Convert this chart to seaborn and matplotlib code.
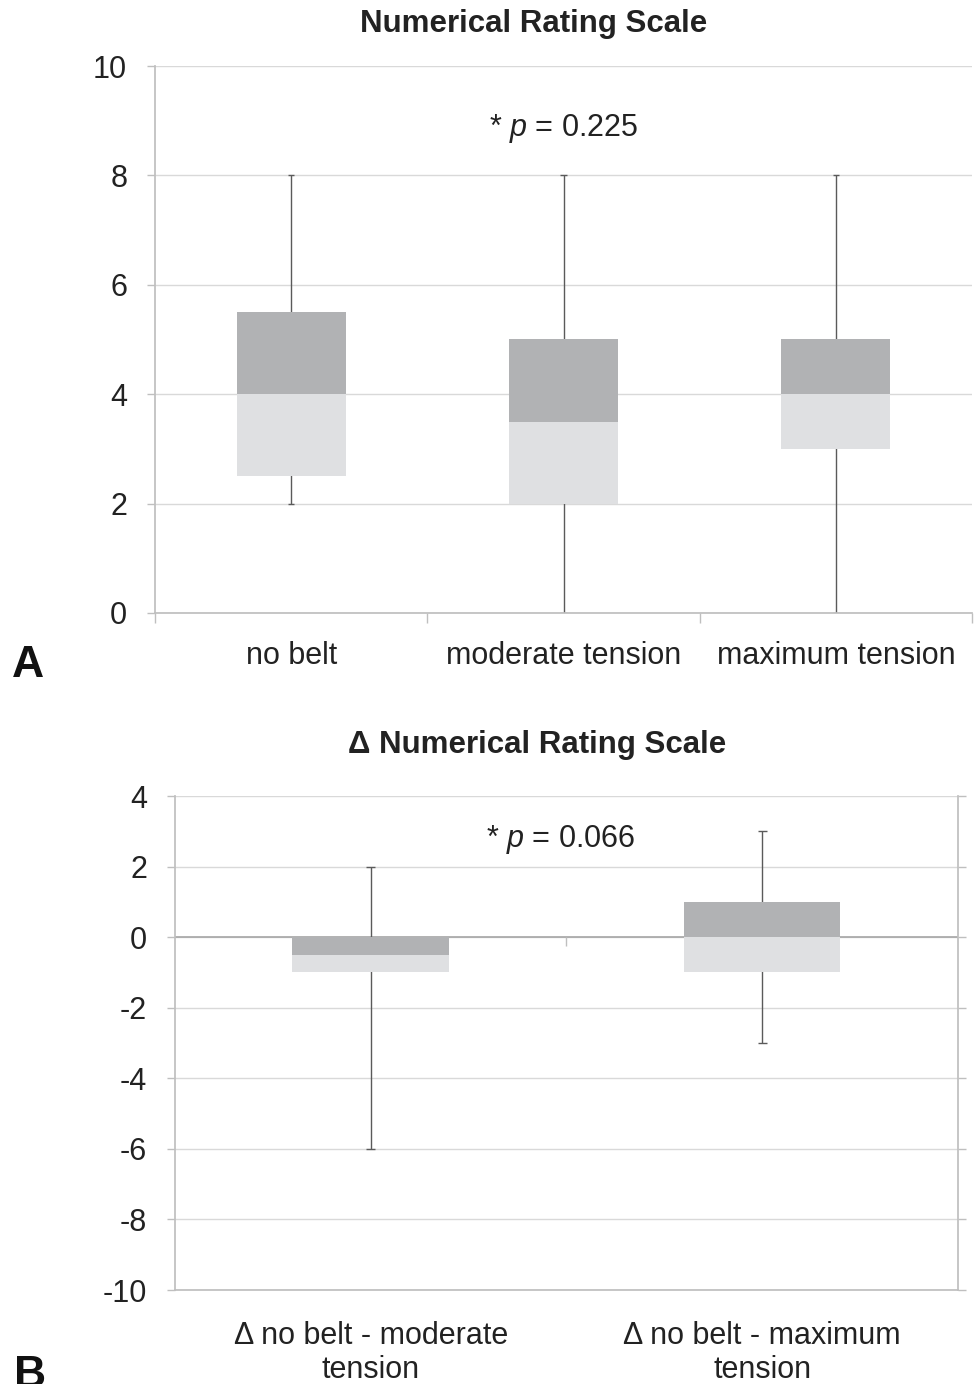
import matplotlib
matplotlib.use("Agg")
import matplotlib.pyplot as plt
import seaborn as sns
import pandas as pd
import numpy as np

# Panel A - Numerical Rating Scale
groups_a = ["no belt", "moderate tension", "maximum tension"]
min_a = [2, 0, 0]
q1_a = [2.5, 2, 3]
med_a = [4, 3.5, 4]
q3_a = [5.5, 5, 5]
max_a = [8, 8, 8]
yticks_a = [0, 2, 4, 6, 8, 10]

# Panel B - Delta Numerical Rating Scale
groups_b = ["Δ no belt - moderate\ntension", "Δ no belt - maximum\ntension"]
min_b = [-6, -3]
q1_b = [-1, -1]
med_b = [-0.5, 0]
q3_b = [0, 1]
max_b = [2, 3]
yticks_b = [-10, -8, -6, -4, -2, 0, 2, 4]

sns.set_theme(style="white")
plt.rcParams['font.family'] = ['Liberation Sans', 'DejaVu Sans']
plt.rcParams['mathtext.fontset'] = 'custom'
plt.rcParams['mathtext.it'] = 'Liberation Sans:italic'
plt.rcParams['mathtext.rm'] = 'Liberation Sans'

DARK = "#b1b2b4"
LIGHT = "#dfe0e2"
WHISK = "#5a5a5a"
GRID = "#d9d9d9"
AXIS = "#bfbfbf"


def box_panel(ax, groups, lo, q1, med, q3, hi, yticks):
    df = pd.DataFrame({"group": groups,
                       "lower": np.array(med) - np.array(q1),
                       "upper": np.array(q3) - np.array(med)})
    x = np.arange(len(groups))
    # whiskers and caps behind the boxes
    ax.vlines(x, lo, hi, color=WHISK, lw=1, zorder=2)
    ax.hlines(lo, x - 0.012, x + 0.012, color=WHISK, lw=1, zorder=2)
    ax.hlines(hi, x - 0.012, x + 0.012, color=WHISK, lw=1, zorder=2)
    sns.barplot(data=df, x="group", y="lower", bottom=q1, color=LIGHT, linewidth=0,
                width=0.4, errorbar=None, saturation=1, ax=ax, zorder=3)
    sns.barplot(data=df, x="group", y="upper", bottom=med, color=DARK, linewidth=0,
                width=0.4, errorbar=None, saturation=1, ax=ax, zorder=3)
    ax.set_xlim(-0.5, len(groups) - 0.5)
    ax.set_ylim(yticks[0], yticks[-1])
    ax.set_yticks(yticks)
    ax.set_yticklabels([str(t) for t in yticks], fontsize=22, color="#222222")
    for t in yticks:
        ax.axhline(t, color=GRID, lw=1, zorder=1)
    ax.set_xlabel("")
    ax.set_ylabel("")
    for s in ["top", "right"]:
        ax.spines[s].set_visible(False)
    ax.spines["left"].set_color(AXIS)
    ax.spines["bottom"].set_color(AXIS)
    ax.tick_params(axis="y", left=True, length=6, width=1, color=AXIS, pad=14)
    ax.set_xticks(x)
    ax.set_xticklabels(groups, fontsize=22, color="#222222", linespacing=1.2)
    ax.set_xticks(np.arange(len(groups) + 1) - 0.5, minor=True)
    ax.tick_params(axis="x", which="major", length=0, pad=20)
    ax.tick_params(axis="x", which="minor", bottom=True, length=7, width=1, color=AXIS)


fig = plt.figure(figsize=(9.75, 13.84), dpi=100)

# --- Panel A ---
ax1 = fig.add_axes([0.159, 0.5571, 0.838, 0.3952])
box_panel(ax1, groups_a, min_a, q1_a, med_a, q3_a, max_a, yticks_a)
ax1.text(1.0, 8.85, "* $p$ = 0.225", ha="center", va="center", fontsize=22, color="#222222")
fig.text(0.547, 0.983, "Numerical Rating Scale", ha="center", va="center",
         fontsize=22.5, fontweight="bold", color="#222222")
fig.text(0.012, 0.534, "A", ha="left", va="top", fontsize=32, fontweight="bold", color="#111111")

# --- Panel B ---
ax2 = fig.add_axes([0.1795, 0.0679, 0.803, 0.3569])
box_panel(ax2, groups_b, min_b, q1_b, med_b, q3_b, max_b, yticks_b)
ax2.tick_params(axis="x", which="minor", length=0)
ax2.tick_params(axis="x", which="major", pad=22)
ax2.axhline(0, color="#a6a6a6", lw=1.2, zorder=1.5)
ax2.vlines([0.5], -0.25, 0, color=AXIS, lw=1, zorder=1.5)
ax2.spines["right"].set_visible(True)
ax2.spines["right"].set_color(AXIS)
ax2.tick_params(axis="y", right=True, labelright=False)
ax2.text(0.486, 2.78, "* $p$ = 0.066", ha="center", va="center", fontsize=22, color="#222222")
fig.text(0.551, 0.462, "Δ Numerical Rating Scale", ha="center", va="center",
         fontsize=22.5, fontweight="bold", color="#222222")
fig.text(0.014, 0.021, "B", ha="left", va="top", fontsize=32, fontweight="bold", color="#111111")

fig.savefig("out.png", dpi=100, facecolor="white")
